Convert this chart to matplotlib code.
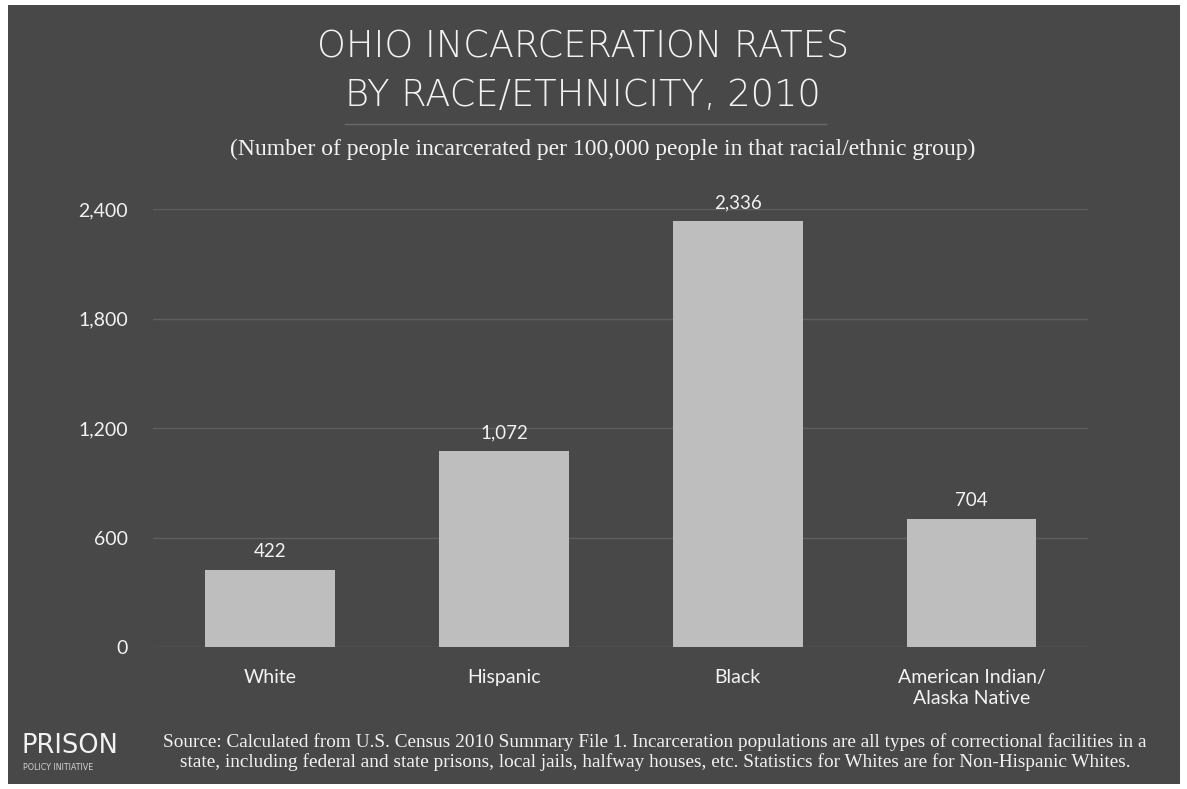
import matplotlib.pyplot as plt
from matplotlib.patches import Rectangle
from matplotlib.lines import Line2D

categories = ["White", "Hispanic", "Black", "American Indian/\nAlaska Native"]
rates = [422, 1072, 2336, 704]
y_ticks = [0, 600, 1200, 1800, 2400]
y_tick_labels = ["0", "600", "1,200", "1,800", "2,400"]

BG = "#484848"
BAR = "#bebebe"
TXT = "#f2f2f2"
GRID = "#5f5f5f"
SANS = ["Lato", "DejaVu Sans"]
WIDE = ["DejaVu Sans"]
SERIF = ["Liberation Serif", "DejaVu Serif"]

fig = plt.figure(figsize=(11.87, 7.89), dpi=100, facecolor="white")
fig.patches.append(
    Rectangle((8 / 1187, 5 / 789), 1172 / 1187, 779 / 789, transform=fig.transFigure,
              facecolor=BG, edgecolor="none", zorder=-10)
)

ax = fig.add_axes([0.129, 0.180, 0.788, 0.555])
ax.set_facecolor("none")
x = range(len(categories))
ax.bar(x, rates, width=0.555, color=BAR, zorder=3)
for xi, v in zip(x, rates):
    ax.annotate(f"{v:,}", (xi, v), xytext=(0, 7), textcoords="offset points",
                ha="center", va="bottom", color=TXT, fontsize=13.5, family=SANS)

ax.set_xlim(-0.5, 3.5)
ax.set_ylim(0, 2400)
ax.set_yticks(y_ticks)
ax.set_yticklabels(y_tick_labels)
ax.set_xticks(list(x))
ax.set_xticklabels(categories, linespacing=1.25)
ax.tick_params(length=0, colors=TXT, labelsize=14)
ax.tick_params(axis="y", pad=18)
ax.tick_params(axis="x", pad=16)
for lab in ax.get_xticklabels() + ax.get_yticklabels():
    lab.set_family(SANS)
ax.yaxis.grid(True, color=GRID, linewidth=1, zorder=0)
ax.set_axisbelow(True)
for s in ax.spines.values():
    s.set_visible(False)

# title block
fig.text(0.491, 1 - 47 / 789, "OHIO INCARCERATION RATES", ha="center", va="center",
         fontsize=26.5, color=TXT, family=WIDE, fontweight="light")
fig.text(0.491, 1 - 95 / 789, "BY RACE/ETHNICITY, 2010", ha="center", va="center",
         fontsize=26.5, color=TXT, family=WIDE, fontweight="light")
fig.add_artist(Line2D([345 / 1187, 826 / 1187], [1 - 124 / 789] * 2,
                      transform=fig.transFigure, color="#6a6a6a", linewidth=1))
fig.text(0.5076, 1 - 149 / 789,
         "(Number of people incarcerated per 100,000 people in that racial/ethnic group)",
         ha="center", va="center", fontsize=17, color=TXT, family=SERIF)

# footer
fig.text(0.018, 1 - 746 / 789, "PRISON", ha="left", va="center", fontsize=18.5,
         color=TXT, family=WIDE)
fig.text(0.019, 1 - 767 / 789, "POLICY INITIATIVE", ha="left", va="center", fontsize=5.8,
         color="#d0d0d0", family=WIDE)
fig.text(0.552, 1 - 752 / 789,
         "Source: Calculated from U.S. Census 2010 Summary File 1. Incarceration populations are all types of correctional facilities in a\n"
         "state, including federal and state prisons, local jails, halfway houses, etc. Statistics for Whites are for Non-Hispanic Whites.",
         ha="center", va="center", fontsize=13.9, color=TXT, family=SERIF, linespacing=1.1)

fig.savefig("out.png", dpi=100, facecolor=fig.get_facecolor())
